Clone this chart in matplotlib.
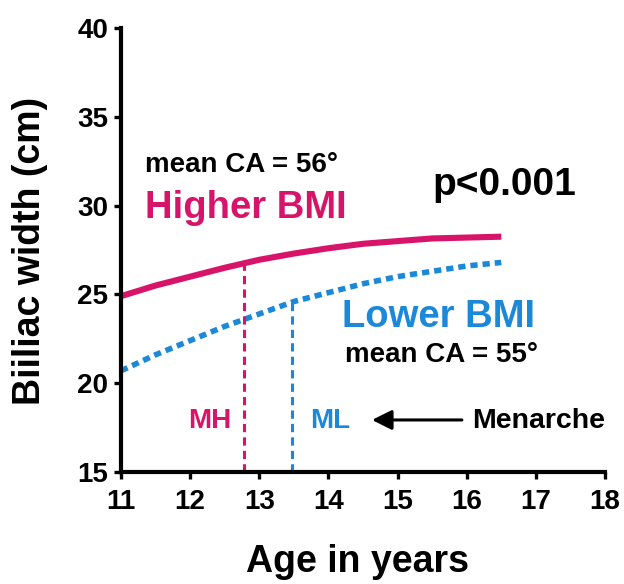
import matplotlib
matplotlib.use("Agg")
import matplotlib.pyplot as plt

plt.rcParams['font.family'] = ['Liberation Sans', 'DejaVu Sans']
plt.rcParams['font.weight'] = 'bold'

age = [11, 11.5, 12, 12.5, 13, 13.5, 14, 14.5, 15, 15.5, 16, 16.5]
higher_bmi = [24.9, 25.5, 26.0, 26.5, 26.95, 27.3, 27.6, 27.85, 28.0, 28.15, 28.2, 28.25]
lower_bmi = [20.7, 21.6, 22.4, 23.2, 23.9, 24.6, 25.1, 25.6, 26.0, 26.3, 26.6, 26.8]
menarche_high = 12.78
menarche_low = 13.48
menarche_high_y = 26.85
menarche_low_y = 24.6
xticks = [11, 12, 13, 14, 15, 16, 17, 18]
yticks = [15, 20, 25, 30, 35, 40]

PINK = '#D7146A'
BLUE = '#1B88D8'

W, H = 624, 584
fig = plt.figure(figsize=(W / 100, H / 100), dpi=100)
ax = fig.add_axes([121 / W, 1 - 472 / H, 484 / W, 444 / H])

ax.plot(age, higher_bmi, color=PINK, lw=4.4, solid_capstyle='butt')
ax.plot(age, lower_bmi, color=BLUE, lw=4.0, linestyle=(0, (1.3, 0.9)))
ax.plot([menarche_high, menarche_high], [15, menarche_high_y], color=PINK, lw=2.2,
        linestyle=(0, (2.7, 1.7)))
ax.plot([menarche_low, menarche_low], [15, menarche_low_y], color=BLUE, lw=2.2,
        linestyle=(0, (2.7, 1.7)))

ax.set_xlim(11, 18)
ax.set_ylim(15, 40)
ax.set_xticks(xticks)
ax.set_yticks(yticks)
ax.tick_params(labelsize=20, width=2.4, length=5, direction='out')
ax.tick_params(axis='x', pad=7)
ax.tick_params(axis='y', pad=4)
for s in ['top', 'right']:
    ax.spines[s].set_visible(False)
for s in ['left', 'bottom']:
    ax.spines[s].set_linewidth(3.0)
for lab in ax.get_xticklabels() + ax.get_yticklabels():
    lab.set_fontweight('bold')

fig.text(358 / W, 1 - 572 / H, 'Age in years', fontsize=27, fontweight='bold',
         ha='center', va='baseline')
fig.text(30 / W, 1 - 251 / H, 'Biiliac width (cm)', fontsize=27, fontweight='bold',
         ha='center', va='center', rotation=90)

ax.text(11.35, 31.9, 'mean CA = 56°', fontsize=20, fontweight='bold', va='baseline', ha='left')
ax.text(11.35, 29.3, 'Higher BMI', fontsize=27.5, fontweight='bold', color=PINK, va='baseline', ha='left')
ax.text(15.5, 30.6, 'p<0.001', fontsize=28, fontweight='bold', va='baseline', ha='left')
ax.text(14.2, 23.16, 'Lower BMI', fontsize=27.5, fontweight='bold', color=BLUE, va='baseline', ha='left')
ax.text(14.24, 21.2, 'mean CA = 55°', fontsize=20, fontweight='bold', va='baseline', ha='left')
ax.text(11.97, 17.48, 'MH', fontsize=20, fontweight='bold', color=PINK, va='baseline', ha='left')
ax.text(13.73, 17.48, 'ML', fontsize=20, fontweight='bold', color=BLUE, va='baseline', ha='left')
ax.text(16.08, 17.48, 'Menarche', fontsize=20.5, fontweight='bold', va='baseline', ha='left')
ax.annotate('', xy=(14.63, 17.93), xytext=(15.93, 17.93),
            arrowprops=dict(arrowstyle='-|>,head_length=0.6,head_width=0.3', color='black',
                            lw=2.2, mutation_scale=20, shrinkA=0, shrinkB=0))

fig.savefig('out.png', dpi=100)
